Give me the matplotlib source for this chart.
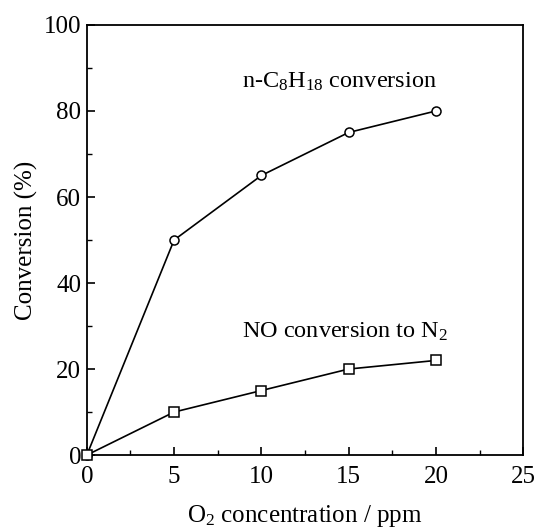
import matplotlib.pyplot as plt
from matplotlib.ticker import MultipleLocator

plt.rcParams['font.family'] = ['Liberation Serif', 'DejaVu Serif']
plt.rcParams['mathtext.fontset'] = 'custom'
plt.rcParams['mathtext.rm'] = 'Liberation Serif'
plt.rcParams['mathtext.default'] = 'regular'

# data
o2_ppm = [0, 5, 10, 15, 20]
octane_conv = [0, 50, 65, 75, 80]
no_to_n2_conv = [0, 10, 15, 20, 22]

fig = plt.figure(figsize=(5.36, 5.31), dpi=100)
ax = fig.add_axes([0.162, 0.143, 0.814, 0.81])

ax.plot(o2_ppm, octane_conv, '-o', color='black', lw=1.2,
        markersize=6.5, markerfacecolor='white', markeredgewidth=1.1, clip_on=False, zorder=3)
ax.plot(o2_ppm, no_to_n2_conv, '-s', color='black', lw=1.2,
        markersize=7, markerfacecolor='white', markeredgewidth=1.1, clip_on=False, zorder=3)

ax.text(8.9, 86.7, r'n-C$_8$H$_{18}$ conversion', fontsize=17.5, va='center')
ax.text(8.9, 28.6, r'NO conversion to N$_2$', fontsize=17.5, va='center')

ax.set_xlim(0, 25)
ax.set_ylim(0, 100)
ax.xaxis.set_major_locator(MultipleLocator(5))
ax.xaxis.set_minor_locator(MultipleLocator(2.5))
ax.yaxis.set_major_locator(MultipleLocator(20))
ax.yaxis.set_minor_locator(MultipleLocator(10))
ax.tick_params(which='both', direction='in', top=False, right=False, labelsize=18)
ax.tick_params(which='major', length=6, width=1.2)
ax.tick_params(which='minor', length=3.5, width=1.0)
ax.tick_params(axis='x', pad=8)
ax.tick_params(axis='y', pad=4)
for s in ax.spines.values():
    s.set_linewidth(1.3)

ax.set_xlabel(r'O$_2$ concentration / ppm', fontsize=18, labelpad=11)
ax.set_ylabel('Conversion (%)', fontsize=18, labelpad=4)

fig.savefig('out.png', dpi=100)
